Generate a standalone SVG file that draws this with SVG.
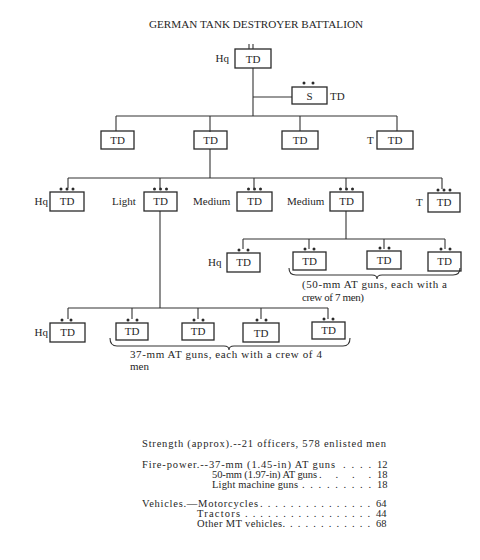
<svg xmlns="http://www.w3.org/2000/svg" width="480" height="560" viewBox="0 0 480 560">
<style>
text{font-family:"Liberation Serif","Times New Roman",serif;fill:#262626}
.t{font-size:10px}
.bx{fill:none;stroke:#2a2a2a;stroke-width:1.3}
.c{fill:none;stroke:#333;stroke-width:1.1}
.tdt{font-size:11px;text-anchor:middle}
.lb{font-size:11px}
.d{fill:#2a2a2a}
.s{font-size:10.5px}
</style>
<defs>
<circle id="dot" r="1.5" class="d"/>
</defs>
<rect width="480" height="560" fill="#fff"/>
<text class="t" x="149" y="28" textLength="214" lengthAdjust="spacingAndGlyphs">GERMAN TANK DESTROYER BATTALION</text>

<g id="connectors" class="c">
<path d="M253,68V116M253,97H292"/>
<path d="M116,116H397M116,116V131M210,116V132M300,116V131M397,116V131"/>
<path d="M210,149V178M68,178H442M68,178V188M160,178V188M254,178V188M346,178V188M442,178V189"/>
<path d="M346,211V239M243,239H445M243,239V249M309,239V249M384,239V249M445,239V249"/>
<path d="M160,211V308M68,308H328M68,308V319M132,308V319M198,308V319M261,308V319M328,308V319"/>
<path d="M289,268Q289,275 296,275H372Q377,275 377,279Q377,275 382,275H453Q460,275 460,268"/>
<path d="M110,338Q110,346 117,346H224Q229,346 229,350Q229,346 234,346H343Q350,346 350,338"/>
</g>

<g id="bn_hq">
<rect class="bx" x="235" y="49" width="36" height="19"/>
<path d="M249,44V49M253,44V49" class="c"/>
<text class="tdt" x="253" y="63">TD</text>
<text class="lb" x="229" y="62" text-anchor="end">Hq</text>
</g>
<g id="supply">
<rect class="bx" x="292" y="87" width="35" height="17"/>
<use href="#dot" x="304" y="83"/><use href="#dot" x="313" y="83"/>
<text class="tdt" x="309.5" y="100">S</text>
<text class="lb" x="330" y="100">TD</text>
</g>

<g id="co1"><rect class="bx" x="101" y="131" width="33" height="18"/><text class="tdt" x="117.5" y="144">TD</text></g>
<g id="co2"><rect class="bx" x="194" y="131" width="33" height="18"/><text class="tdt" x="210.5" y="144">TD</text></g>
<g id="co3"><rect class="bx" x="282" y="131" width="36" height="18"/><text class="tdt" x="300" y="144">TD</text></g>
<g id="co4"><rect class="bx" x="377" y="131" width="36" height="18"/><text class="tdt" x="395" y="144">TD</text><text class="lb" x="367" y="144">T</text></g>

<g id="pl_hq"><rect class="bx" x="50" y="192" width="34" height="19"/><use href="#dot" x="61" y="189"/><use href="#dot" x="67" y="189"/><use href="#dot" x="73" y="189"/><text class="tdt" x="67" y="205">TD</text><text class="lb" x="48" y="205" text-anchor="end">Hq</text></g>
<g id="pl_light"><rect class="bx" x="144" y="192" width="33" height="19"/><use href="#dot" x="154.5" y="189"/><use href="#dot" x="160.5" y="189"/><use href="#dot" x="166.5" y="189"/><text class="tdt" x="160.5" y="205">TD</text><text class="lb" x="112" y="205">Light</text></g>
<g id="pl_med1"><rect class="bx" x="237" y="192" width="35" height="19"/><use href="#dot" x="248.5" y="189"/><use href="#dot" x="254.5" y="189"/><use href="#dot" x="260.5" y="189"/><text class="tdt" x="254.5" y="205">TD</text><text class="lb" x="193" y="205">Medium</text></g>
<g id="pl_med2"><rect class="bx" x="330" y="192" width="33" height="19"/><use href="#dot" x="340.5" y="189"/><use href="#dot" x="346.5" y="189"/><use href="#dot" x="352.5" y="189"/><text class="tdt" x="346.5" y="205">TD</text><text class="lb" x="287" y="205">Medium</text></g>
<g id="pl_t"><rect class="bx" x="428" y="193" width="32" height="19"/><use href="#dot" x="438" y="190"/><use href="#dot" x="444" y="190"/><use href="#dot" x="450" y="190"/><text class="tdt" x="444" y="206">TD</text><text class="lb" x="416" y="206">T</text></g>

<g id="m_hq"><rect class="bx" x="227" y="253" width="33" height="19"/><use href="#dot" x="239" y="250"/><use href="#dot" x="248" y="250"/><text class="tdt" x="243.5" y="266">TD</text><text class="lb" x="208" y="266">Hq</text></g>
<g id="m_g1"><rect class="bx" x="293" y="252" width="33" height="18"/><use href="#dot" x="305" y="249"/><use href="#dot" x="314" y="249"/><text class="tdt" x="309.5" y="265">TD</text></g>
<g id="m_g2"><rect class="bx" x="367" y="251" width="34" height="18"/><use href="#dot" x="380" y="248"/><use href="#dot" x="389" y="248"/><text class="tdt" x="384" y="264">TD</text></g>
<g id="m_g3"><rect class="bx" x="428" y="252" width="33" height="19"/><use href="#dot" x="441" y="249"/><use href="#dot" x="450" y="249"/><text class="tdt" x="444.5" y="265">TD</text></g>
<g id="m_note"><text class="lb" x="302" y="288" textLength="145" lengthAdjust="spacing">(50-mm AT guns, each with a</text><text class="lb" x="302" y="301" textLength="62" lengthAdjust="spacing">crew of 7 men)</text></g>

<g id="l_hq"><rect class="bx" x="50" y="323" width="35" height="19"/><use href="#dot" x="62" y="320"/><use href="#dot" x="71" y="320"/><text class="tdt" x="67.5" y="336">TD</text><text class="lb" x="48" y="336" text-anchor="end">Hq</text></g>
<g id="l_g1"><rect class="bx" x="116" y="323" width="32" height="17"/><use href="#dot" x="128" y="320"/><use href="#dot" x="137" y="320"/><text class="tdt" x="132" y="335">TD</text></g>
<g id="l_g2"><rect class="bx" x="182" y="323" width="32" height="17"/><use href="#dot" x="194" y="320"/><use href="#dot" x="203" y="320"/><text class="tdt" x="198" y="335">TD</text></g>
<g id="l_g3"><rect class="bx" x="243" y="323" width="36" height="19"/><use href="#dot" x="257" y="320"/><use href="#dot" x="266" y="320"/><text class="tdt" x="261" y="337">TD</text></g>
<g id="l_g4"><rect class="bx" x="312" y="322" width="33" height="17"/><use href="#dot" x="324" y="319"/><use href="#dot" x="333" y="319"/><text class="tdt" x="328.5" y="334">TD</text></g>
<g id="l_note"><text class="lb" x="130" y="358" textLength="192" lengthAdjust="spacing">37-mm AT guns, each with a crew of 4</text><text class="lb" x="130" y="370">men</text></g>

<g id="summary" class="s">
<text x="142" y="447" textLength="244" lengthAdjust="spacing">Strength (approx).--21 officers, 578 enlisted men</text>
<text x="142" y="468"><tspan textLength="193" lengthAdjust="spacing">Fire-power.--37-mm (1.45-in) AT guns</tspan><tspan x="343" textLength="28" lengthAdjust="spacing">. . . .</tspan><tspan x="377">12</tspan></text>
<text x="212" y="478"><tspan textLength="105" lengthAdjust="spacing">50-mm (1.97-in) AT guns</tspan><tspan x="319" textLength="52" lengthAdjust="spacing">. . . .</tspan><tspan x="377">18</tspan></text>
<text x="212" y="488"><tspan textLength="86" lengthAdjust="spacing">Light machine guns</tspan><tspan x="302" textLength="69" lengthAdjust="spacing">. . . . . . . . .</tspan><tspan x="377">18</tspan></text>
<text x="142" y="507"><tspan textLength="116" lengthAdjust="spacing">Vehicles.—Motorcycles</tspan><tspan x="260" textLength="110" lengthAdjust="spacing">. . . . . . . . . . . . . . .</tspan><tspan x="376">64</tspan></text>
<text x="197" y="517"><tspan textLength="43" lengthAdjust="spacing">Tractors</tspan><tspan x="245" textLength="125" lengthAdjust="spacing">. . . . . . . . . . . . . . . . .</tspan><tspan x="376">44</tspan></text>
<text x="197" y="527"><tspan textLength="88" lengthAdjust="spacing">Other MT vehicles.</tspan><tspan x="290" textLength="80" lengthAdjust="spacing">. . . . . . . . . . .</tspan><tspan x="376">68</tspan></text>
</g>
</svg>
